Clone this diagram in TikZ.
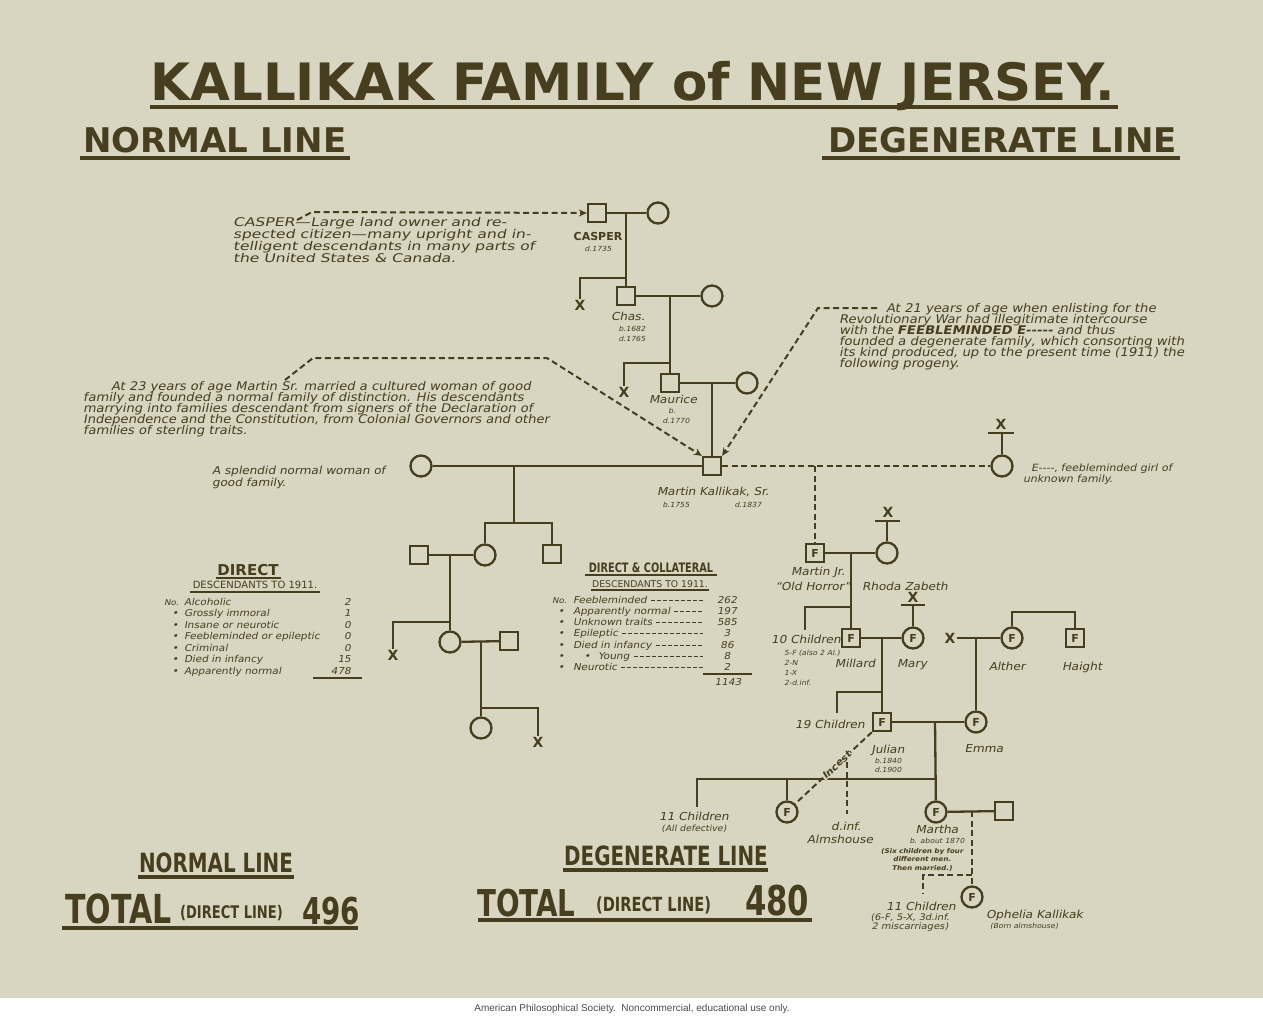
\documentclass[tikz,border=0pt]{standalone}
\usepackage{fontspec}
\usetikzlibrary{arrows.meta, positioning, calc}
\setmainfont{DejaVu Sans}
\newfontfamily\titlefont{DejaVu Sans}
\newfontfamily\condfont{DejaVu Sans}[FakeStretch=0.75]
\newfontfamily\handfont{DejaVu Sans}[FakeSlant=0.2, FakeStretch=1.1]
\newfontfamily\handwide{DejaVu Sans}[FakeSlant=0.2, FakeStretch=1.3]
\newfontfamily\footfont{Liberation Sans}
\definecolor{mPaper}{RGB}{216,213,193}
\definecolor{mInk}{RGB}{70,62,30}
\AtBeginDocument{\lineskiplimit=-10pt}

\begin{document}
\begin{tikzpicture}[x=1pt, y=-1pt, color=mInk, line width=2.3pt,
    male/.style={draw, minimum size=18pt, inner sep=0pt, fill=mPaper, font=\bfseries\fontsize{11}{11}\selectfont},
    female/.style={draw, circle, minimum size=21pt, inner sep=0pt, fill=mPaper, font=\bfseries\fontsize{11}{11}\selectfont},
    xmark/.style={inner sep=0pt, font=\bfseries\fontsize{14}{14}\selectfont},
    hint/.style={line width=2pt, dash pattern=on 6pt off 3.5pt},
    pointer/.style={-{Stealth[length=8pt, width=7pt]}},
    hand/.style={inner sep=0pt, anchor=base, font=\handfont\fontsize{11}{11}\selectfont},
    wee/.style={inner sep=0pt, anchor=base, font=\handfont\fontsize{7}{7}\selectfont},
    tab/.style={inner sep=0pt, anchor=base west, font=\handfont\fontsize{9.5}{10}\selectfont},
    block/.style={inner sep=0pt, anchor=north west, align=left},
    uline/.style={line width=3.5pt}]

  % paper and margins
  \fill[mPaper] (0,0) rectangle (1263,998);
  \fill[white] (0,998) rectangle (1263,1015);
  \useasboundingbox (0,0) rectangle (1263,1015);

  % headings
  \node[anchor=base, inner sep=0pt, font=\titlefont\bfseries\fontsize{51.5}{51.5}\selectfont] (title) at (633,100) {KALLIKAK FAMILY of NEW JERSEY.};
  \draw[line width=4pt] (150,107) -- (1118,107);
  \node[anchor=base west, inner sep=0pt, font=\titlefont\bfseries\fontsize{34}{34}\selectfont] (normHead) at (82,152) {NORMAL LINE};
  \draw[uline] (80,158) -- (350,158);
  \node[anchor=base east, inner sep=0pt, font=\titlefont\bfseries\fontsize{34}{34}\selectfont] (degHead) at (1178,152) {DEGENERATE LINE};
  \draw[uline] (822,158) -- (1180,158);

  % notes
  \node[block, font=\handwide\fontsize{12}{12}\selectfont] (casperTxt) at (232,216)
    {CASPER—Large land owner and re-\\spected citizen—many upright and in-\\telligent descendants in many parts of\\the United States \& Canada.};
  \node[block, font=\handfont\fontsize{11.9}{11}\selectfont] (normTxt) at (82,380)
    {\hspace*{28pt}At 23 years of age Martin Sr. married a cultured woman of good\\family and founded a normal family of distinction. His descendants\\marrying into families descendant from signers of the Declaration of\\Independence and the Constitution, from Colonial Governors and other\\families of sterling traits.};
  \node[block, font=\handfont\fontsize{12}{11}\selectfont] (degTxt) at (838,302)
    {\hspace*{47pt}At 21 years of age when enlisting for the\\Revolutionary War had illegitimate intercourse\\with the {\bfseries FEEBLEMINDED E{-}{-}{-}{-}{-}} and thus\\founded a degenerate family, which consorting with\\its kind produced, up to the present time (1911) the\\following progeny.};
  \node[block, font=\handfont\fontsize{11}{12}\selectfont] (goodTxt) at (211,465)
    {A splendid normal woman of\\good family.};
  \node[block, font=\handfont\fontsize{10}{11}\selectfont] (eTxt) at (1022,463)
    {\hspace*{8pt}E{-}{-}{-}{-}, feebleminded girl of\\unknown family.};

  % Casper to Martin Sr.
  \node[male] (casper) at (597,213) {};
  \node[female] (casperW) at (658,213) {};
  \node[male] (chas) at (626,296) {};
  \node[female] (chasW) at (712,296) {};
  \node[male] (maurice) at (670,383) {};
  \node[female] (mauriceW) at (747,383) {};
  \node[xmark] (casperX) at (580,305) {X};
  \node[xmark] (chasX) at (624,392) {X};
  \node[male] (martin) at (712,466) {};
  \node[female] (goodWoman) at (421,466) {};
  \node[female] (eWoman) at (1002,466) {};
  \node[xmark] (eX) at (1001,424) {X};
  \coordinate (casperM) at (626,213);
  \coordinate (chasM) at (670,296);
  \coordinate (mauriceM) at (712,383);
  \draw (casper) -- (casperW);
  \draw (casperM) -- (chas);
  \draw (626,278) -| (casperX);
  \draw (chas) -- (chasW);
  \draw (chasM) -- (maurice);
  \draw (670,363) -| (chasX);
  \draw (maurice) -- (mauriceW);
  \draw (mauriceM) -- (martin);
  \draw (goodWoman) -- (martin);
  \draw[hint] (martin) -- (eWoman);
  \coordinate (eBar) at (1002,433);
  \draw (988,433) -- (1014,433);
  \draw (eBar) -- (eWoman);

  \node[anchor=base, inner sep=0pt, font=\titlefont\bfseries\fontsize{11}{11}\selectfont] (casperName) at (598,240) {CASPER};
  \node[wee] (casperD) at (598,251) {d.1735};
  \node[hand] (chasName) at (628,320) {Chas.};
  \node[wee] (chasB) at (632,331) {b.1682};
  \node[wee] (chasD) at (632,341) {d.1765};
  \node[hand] (mauriceName) at (673,403) {Maurice};
  \node[wee] (mauriceB) at (672,413) {b.};
  \node[wee] (mauriceD) at (676,423) {d.1770};
  \node[hand] (martinName) at (713,495) {Martin Kallikak, Sr.};
  \node[wee] (martinB) at (676,507) {b.1755};
  \node[wee] (martinD) at (748,507) {d.1837};

  % arrows from the notes
  \coordinate (casperTail) at (297,220);
  \coordinate (normTail) at (285,380);
  \coordinate (degTail) at (877,308);
  \draw[hint, pointer] (casperTail) -- (312,212) -- (casper.west);
  \draw[hint, pointer] (normTail) -- (313,358) -- (547,358) -- (martin.north west);
  \draw[hint, pointer] (degTail) -- (818,308) -- (martin.north east);

  % normal line
  \node[male] (nSon) at (419,555) {};
  \node[female] (nDau) at (485,555) {};
  \node[male] (nSon2) at (552,554) {};
  \node[female] (nGrand) at (450,642) {};
  \node[male] (nGrandH) at (509,641) {};
  \node[xmark] (nX1) at (393,655) {X};
  \node[female] (nGreat) at (481,728) {};
  \node[xmark] (nX2) at (538,742) {X};
  \coordinate (normM) at (514,466);
  \draw (normM) -- (514,523);
  \draw (nDau) |- (514,523) -| (nSon2);
  \draw (nSon) -- (nDau);
  \draw (450,555) -- (nGrand);
  \draw (450,622) -| (nX1);
  \draw (nGrand) -- (nGrandH);
  \draw (481,642) -- (nGreat);
  \draw (481,708) -| (nX2);

  % degenerate line
  \node[male] (martinJr) at (815,553) {F};
  \node[female] (rhoda) at (887,553) {};
  \node[xmark] (rhodaX) at (888,512) {X};
  \node[male] (millard) at (851,638) {F};
  \node[female] (mary) at (913,638) {F};
  \node[xmark] (maryX) at (913,597) {X};
  \node[female] (alther) at (1012,638) {F};
  \node[male] (haight) at (1075,638) {F};
  \node[xmark] (altherX) at (950,638) {X};
  \node[male] (julian) at (882,722) {F};
  \node[female] (emma) at (976,722) {F};
  \node[female] (incestF) at (787,812) {F};
  \node[female] (martha) at (936,812) {F};
  \node[male] (marthaH) at (1004,811) {};
  \node[female] (ophelia) at (972,897) {F};
  \coordinate (jrTop) at (815,466);
  \draw[hint] (jrTop) -- (martinJr);
  \draw (martinJr) -- (rhoda);
  \draw (875,521) -- (900,521);
  \draw (887,521) -- (rhoda);
  \draw (851,553) -- (millard);
  \draw (851,607) -| (805,630);
  \draw (millard) -- (mary);
  \draw (901,605) -- (925,605);
  \draw (913,605) -- (mary);
  \draw (882,638) -- (julian);
  \draw (882,692) -| (837,713);
  \draw (altherX) -- (alther);
  \draw (alther) -- ++(0,-26) -| (haight);
  \draw (976,638) -- (emma);
  \draw (julian) -- (emma);
  \draw (935,722) -- (martha);
  \draw (697,807) |- (935,779);
  \draw (787,779) -- (incestF);
  \draw[hint] (847,762) -- (847,814);
  \draw[hint] (julian.south west) -- (incestF.north east)
    node[pos=0.46, sloped, fill=mPaper, inner sep=0.5pt, font=\handfont\bfseries\fontsize{9.5}{9.5}\selectfont] (incestLbl) {Incest};
  \draw (martha) -- (marthaH);
  \draw[hint] (972,811) -- (ophelia);
  \draw[hint] (972,875) -- (923,875) -- (923,893);

  \node[hand] (jrName) at (818,575) {Martin Jr.};
  \node[hand] (jrNick) at (813,590) {“Old Horror”};
  \node[hand] (rhodaName) at (905,590) {Rhoda Zabeth};
  \node[hand, anchor=base west] (tenKids) at (770,643) {10 Children};
  \node[wee, anchor=base west] (tenA) at (783,655) {5-F (also 2 Al.)};
  \node[wee, anchor=base west] (tenB) at (783,665) {2-N};
  \node[wee, anchor=base west] (tenC) at (783,675) {1-X};
  \node[wee, anchor=base west] (tenD) at (783,685) {2-d.inf.};
  \node[hand] (millardName) at (855,667) {Millard};
  \node[hand] (maryName) at (912,667) {Mary};
  \node[hand] (altherName) at (1007,670) {Alther};
  \node[hand] (haightName) at (1082,670) {Haight};
  \node[hand] (nineKids) at (830,728) {19 Children};
  \node[hand] (julianName) at (888,753) {Julian};
  \node[wee] (julianB) at (888,763) {b.1840};
  \node[wee] (julianD) at (888,772) {d.1900};
  \node[hand] (emmaName) at (984,752) {Emma};
  \node[hand] (elevenA) at (694,820) {11 Children};
  \node[wee, font=\handfont\fontsize{8.5}{9}\selectfont] (elevenB) at (694,831) {(All defective)};
  \node[hand] (dinf) at (846,830) {d.inf.};
  \node[hand] (almshouse) at (840,843) {Almshouse};
  \node[hand] (marthaName) at (937,833) {Martha};
  \node[wee] (marthaB) at (937,843) {b. about 1870};
  \node[wee, align=center, anchor=north, font=\handfont\bfseries\fontsize{6.5}{8.5}\selectfont] (marthaNote) at (922,847)
    {(Six children by four\\different men.\\Then married.)};
  \node[hand] (elevenC) at (921,910) {11 Children};
  \node[wee, align=center, anchor=north, font=\handfont\fontsize{9}{9}\selectfont] (elevenD) at (910,912)
    {(6-F, 5-X, 3d.inf.\\2 miscarriages)};
  \node[hand, anchor=base west] (opheliaName) at (985,918) {Ophelia Kallikak};
  \node[wee, anchor=base west] (opheliaNote) at (989,928) {(Born almshouse)};

  % direct descendants table
  \node[anchor=base, inner sep=0pt, font=\titlefont\bfseries\fontsize{15}{15}\selectfont] (dirHead) at (248,575) {DIRECT};
  \draw[line width=1.5pt] (216,578) -- (281,578);
  \node[anchor=base, inner sep=0pt, font=\titlefont\fontsize{10}{10}\selectfont] (dirSub) at (255,588) {DESCENDANTS TO 1911.};
  \draw[line width=1.5pt] (190,592) -- (320,592);
  \node[tab, font=\handfont\fontsize{8}{8}\selectfont] (dirNo) at (163,605) {No.};
  \foreach \lab/\val [count=\i] in {Alcoholic/2, Grossly immoral/1, Insane or neurotic/0, Feebleminded or epileptic/0, Criminal/0, Died in infancy/15, Apparently normal/478} {
    \pgfmathsetmacro\yy{593.5+11.5*\i}
    \node[tab] (dirRow\i) at (183,\yy) {\lab};
    \node[tab, anchor=base east] (dirVal\i) at (352,\yy) {\val};
    \ifnum\i>1 \node[tab] (dirDot\i) at (171,\yy) {•}; \fi
  }
  \draw[line width=1.5pt] (313,678) -- (362,678);

  % direct and collateral table
  \node[anchor=base, inner sep=0pt, font=\condfont\bfseries\fontsize{13}{13}\selectfont] (colHead) at (651,572) {DIRECT \& COLLATERAL};
  \draw[line width=1.5pt] (585,575) -- (717,575);
  \node[anchor=base, inner sep=0pt, font=\titlefont\fontsize{9.3}{9.3}\selectfont] (colSub) at (650,587) {DESCENDANTS TO 1911.};
  \draw[line width=1.5pt] (591,590) -- (709,590);
  \node[tab, font=\handfont\fontsize{8}{8}\selectfont] (colNo) at (551,603) {No.};
  \foreach \lab/\val [count=\i] in {Feebleminded/262, Apparently normal/197, Unknown traits/585, Epileptic/3, Died in infancy/86, Young/8, Neurotic/2} {
    \pgfmathsetmacro\yy{592+11.2*\i}
    \ifnum\i=6 \def\xx{597}\else\def\xx{572}\fi
    \node[tab] (colRow\i) at (\xx,\yy) {\lab};
    \node[tab, anchor=base] (colVal\i) at (727,\yy) {\val};
    \draw[line width=1pt, dash pattern=on 4pt off 2pt] ([xshift=3pt, yshift=3pt]colRow\i.base east) -- (703,\yy-3);
    \ifnum\i>1 \node[tab] (colDot\i) at (557,\yy) {•}; \fi
  }
  \node[tab] (colDotY) at (583,659.2) {•};
  \draw[line width=1.5pt] (703,674) -- (752,674);
  \node[tab, anchor=base] (colTotal) at (728,685) {1143};

  % totals
  \node[anchor=base, inner sep=0pt, font=\condfont\bfseries\fontsize{26.5}{26.5}\selectfont] (normFoot) at (216,872) {NORMAL LINE};
  \draw[uline] (138,877) -- (294,877);
  \node[anchor=base, inner sep=0pt, font=\condfont\bfseries\fontsize{26.5}{26.5}\selectfont] (degFoot) at (666,865) {DEGENERATE LINE};
  \draw[uline] (563,870) -- (768,870);
  \node[anchor=base west, inner sep=0pt, font=\condfont\bfseries\fontsize{40}{40}\selectfont] (normTotal) at (64,923) {TOTAL};
  \node[anchor=base west, inner sep=0pt, font=\condfont\bfseries\fontsize{17.4}{17.4}\selectfont] (normDirect) at (179,918) {(DIRECT LINE)};
  \node[anchor=base west, inner sep=0pt, font=\condfont\bfseries\fontsize{37}{37}\selectfont] (normSum) at (301,924) {496};
  \draw[line width=4pt] (62,928) -- (358,928);
  \node[anchor=base west, inner sep=0pt, font=\condfont\bfseries\fontsize{37}{37}\selectfont] (degTotal) at (476,916) {TOTAL};
  \node[anchor=base west, inner sep=0pt, font=\condfont\bfseries\fontsize{19.5}{19.5}\selectfont] (degDirect) at (595,911) {(DIRECT LINE)};
  \node[anchor=base west, inner sep=0pt, font=\condfont\bfseries\fontsize{41}{41}\selectfont] (degSum) at (744,915) {480};
  \draw[line width=4pt] (478,920) -- (812,920);

  \node[anchor=base, inner sep=0pt, text=black!70, font=\footfont\fontsize{10}{10}\selectfont] (credit) at (632,1011)
    {American Philosophical Society.\ \ Noncommercial, educational use only.};
\end{tikzpicture}
\end{document}
